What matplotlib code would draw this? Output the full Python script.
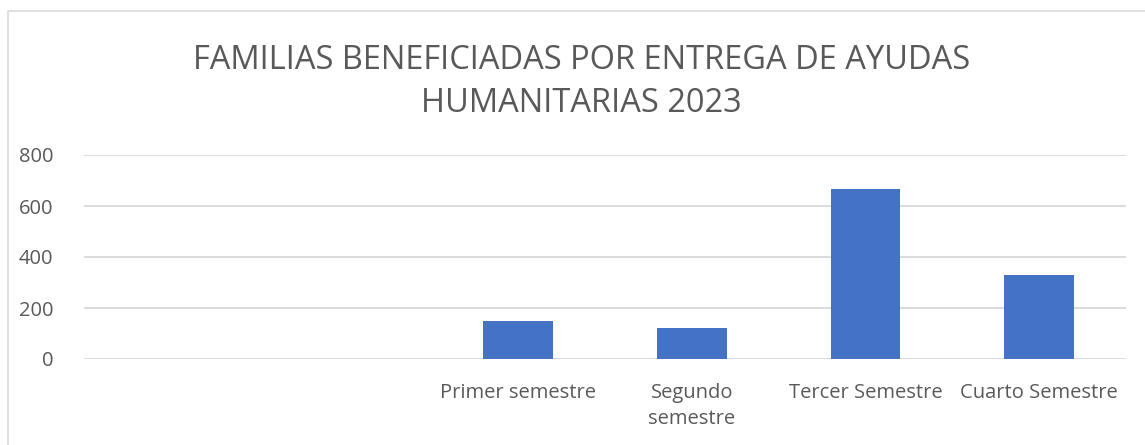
import matplotlib
matplotlib.use("Agg")
import matplotlib.pyplot as plt
from matplotlib.patches import Rectangle

categories = ["", "", "Primer semestre", "Segundo\nsemestre", "Tercer Semestre", "Cuarto Semestre"]
values = [0, 0, 150, 120, 667, 330]
yticks = [0, 200, 400, 600, 800]
title = "FAMILIAS BENEFICIADAS POR ENTREGA DE AYUDAS\nHUMANITARIAS 2023"

W, H = 1145, 445
fig = plt.figure(figsize=(W / 100, H / 100), dpi=100)
fig.patch.set_facecolor("white")
fig.patches.append(Rectangle((8 / W, -0.1), 1.2, 1 - 11 / H + 0.1, transform=fig.transFigure,
                             fill=False, edgecolor="#d9d9d9", linewidth=1.2))

ax = fig.add_axes([84 / W, 1 - 359 / H, (1126 - 84) / W, (359 - 155) / H])
x = list(range(len(categories)))
ax.bar(x, values, width=0.40, color="#4472C4", zorder=3)
ax.set_xlim(-0.5, len(categories) - 0.5)
ax.set_ylim(0, 800)
ax.set_yticks(yticks)
ax.set_yticklabels([str(v) for v in yticks])
ax.set_xticks(x)
ax.set_xticklabels(categories, linespacing=1.4)
ax.grid(axis="y", color="#d9d9d9", linewidth=1.3, zorder=0)
for s in ax.spines.values():
    s.set_visible(False)
ax.tick_params(axis="both", length=0, labelsize=14.5, colors="#595959")
ax.tick_params(axis="y", pad=22)
ax.tick_params(axis="x", pad=17)
for lab in ax.get_xticklabels() + ax.get_yticklabels():
    lab.set_fontfamily("Open Sans")
    lab.set_color("#595959")

fig.text(0.508, 1 - 82 / H, title, ha="center", va="center", fontsize=23.5,
         fontfamily="Open Sans", fontweight="normal", color="#595959", linespacing=1.42)

fig.savefig("out.png", dpi=100)
